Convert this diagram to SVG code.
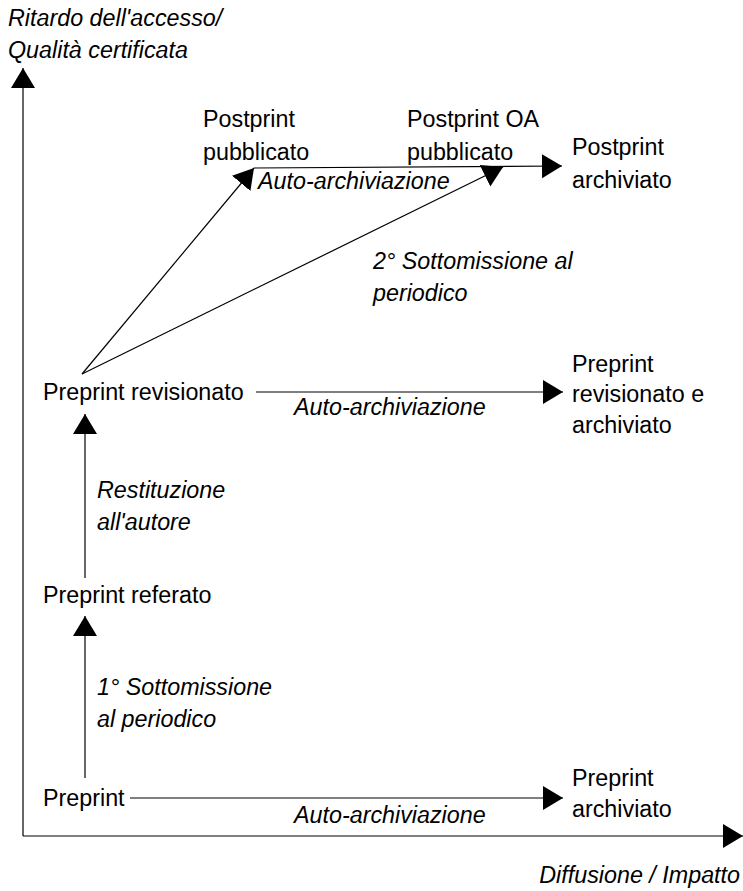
<svg xmlns="http://www.w3.org/2000/svg" width="743" height="891" viewBox="0 0 743 891">
<style>
text{font-family:"Liberation Sans",Arial,sans-serif;font-size:23.3px;fill:#000}
.i{font-style:italic}
.ln{stroke:#000;stroke-width:1.2;fill:none}
</style>
<defs>
<marker id="ah" markerUnits="userSpaceOnUse" markerWidth="22" markerHeight="26" refX="20" refY="12" orient="auto">
<path d="M0,0 L20,12 L0,24 z" fill="#000"/>
</marker>
</defs>
<rect width="743" height="891" fill="#fff"/>
<g id="connectors">
<line class="ln" x1="23" y1="836" x2="23" y2="68" marker-end="url(#ah)"/>
<line class="ln" x1="23" y1="836" x2="743" y2="836" marker-end="url(#ah)"/>
<line class="ln" x1="130" y1="798" x2="563" y2="798" marker-end="url(#ah)"/>
<line class="ln" x1="85" y1="778" x2="85" y2="616" marker-end="url(#ah)"/>
<line class="ln" x1="85" y1="578" x2="85" y2="414" marker-end="url(#ah)"/>
<line class="ln" x1="256" y1="392" x2="563" y2="392" marker-end="url(#ah)"/>
<line class="ln" x1="82" y1="374" x2="254" y2="168" marker-end="url(#ah)"/>
<line class="ln" x1="82" y1="374" x2="503" y2="167" marker-end="url(#ah)"/>
<line class="ln" x1="254" y1="168" x2="562" y2="166" marker-end="url(#ah)"/>
</g>
<g id="axis-y-label"><text class="i" x="8" y="26">Ritardo dell'accesso/</text><text class="i" x="8" y="58">Qualità certificata</text></g>
<g id="axis-x-label"><text class="i" x="740" y="883" text-anchor="end">Diffusione / Impatto</text></g>
<g id="postprint-pubblicato"><text x="203" y="127">Postprint</text><text x="203" y="160">pubblicato</text></g>
<g id="postprint-oa"><text x="407" y="127">Postprint OA</text><text x="407" y="160">pubblicato</text></g>
<g id="postprint-archiviato"><text x="572" y="155">Postprint</text><text x="572" y="188">archiviato</text></g>
<g id="preprint-revisionato"><text x="43" y="400">Preprint revisionato</text></g>
<g id="preprint-rev-archiviato"><text x="572" y="372">Preprint</text><text x="572" y="402">revisionato e</text><text x="572" y="433">archiviato</text></g>
<g id="preprint-referato"><text x="43" y="603">Preprint referato</text></g>
<g id="preprint"><text x="43" y="806">Preprint</text></g>
<g id="preprint-archiviato"><text x="572" y="786">Preprint</text><text x="572" y="817">archiviato</text></g>
<g id="labels">
<text class="i" x="258" y="189">Auto-archiviazione</text>
<text class="i" x="373" y="269">2° Sottomissione al</text>
<text class="i" x="373" y="301">periodico</text>
<text class="i" x="294" y="415">Auto-archiviazione</text>
<text class="i" x="97" y="498">Restituzione</text>
<text class="i" x="97" y="530">all'autore</text>
<text class="i" x="97" y="695">1° Sottomissione</text>
<text class="i" x="97" y="727">al periodico</text>
<text class="i" x="294" y="823">Auto-archiviazione</text>
</g>
</svg>
